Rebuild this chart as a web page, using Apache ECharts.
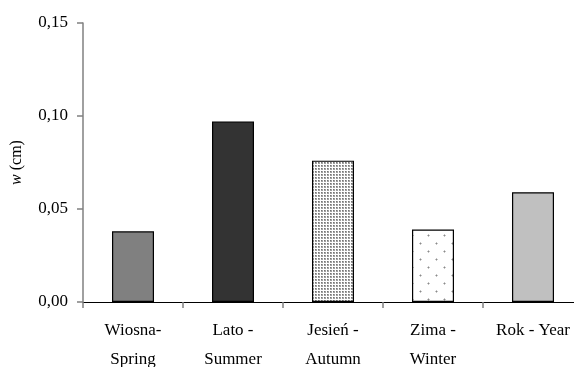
<!DOCTYPE html>
<html>
<head>
<meta charset="utf-8">
<style>
  html, body { margin: 0; padding: 0; background: #fff; }
  #chart { width: 574px; height: 367px; }
</style>
<script src="https://cdn.jsdelivr.net/npm/echarts@6/dist/echarts.min.js"></script>
</head>
<body>
<div id="chart"></div>
<script>
// Seasonal values of w (cm)
const categories = ['Wiosna-\nSpring', 'Lato -\nSummer', 'Jesień -\nAutumn', 'Zima -\nWinter', 'Rok - Year'];
const values = [0.038, 0.097, 0.076, 0.039, 0.059];
const yTicks = { min: 0, max: 0.15, interval: 0.05 };

// Tiled fill patterns for the hatched bars
function densePattern() {
  const c = document.createElement('canvas');
  c.width = 3; c.height = 3;
  const g = c.getContext('2d');
  g.fillStyle = '#ffffff'; g.fillRect(0, 0, 3, 3);
  g.fillStyle = '#a0a0a0'; g.fillRect(0, 0, 2, 2);
  g.fillStyle = '#747474'; g.fillRect(0, 0, 1, 1);
  return { image: c, repeat: 'repeat' };
}
function sparsePattern() {
  const c = document.createElement('canvas');
  c.width = 16; c.height = 16;
  const g = c.getContext('2d');
  g.fillStyle = '#ffffff'; g.fillRect(0, 0, 16, 16);
  g.fillStyle = '#8a8a8a';
  g.fillRect(4, 3, 1, 1); g.fillRect(12, 11, 1, 1);
  g.fillStyle = '#c4c4c4';
  g.fillRect(3, 3, 1, 1); g.fillRect(4, 2, 1, 1); g.fillRect(5, 3, 1, 1); g.fillRect(4, 4, 1, 1);
  g.fillRect(11, 11, 1, 1); g.fillRect(12, 10, 1, 1); g.fillRect(13, 11, 1, 1); g.fillRect(12, 12, 1, 1);
  return { image: c, repeat: 'repeat' };
}

const fills = ['#808080', '#333333', densePattern(), sparsePattern(), '#c0c0c0'];

const chart = echarts.init(document.getElementById('chart'), null, { renderer: 'canvas' });
const serif = '"Liberation Serif", "Times New Roman", serif';

chart.setOption({
  animation: false,
  backgroundColor: '#ffffff',
  grid: {
    left: 83, top: 23, width: 500, height: 279,
    containLabel: false, outerBoundsMode: 'none'
  },
  xAxis: {
    type: 'category',
    data: categories,
    axisLine: { lineStyle: { color: '#000000', width: 1 } },
    axisTick: { show: true, length: 6, lineStyle: { color: '#808080', width: 1.5 } },
    axisLabel: {
      color: '#000000', fontFamily: serif, fontSize: 17,
      margin: 14, lineHeight: 29, interval: 0
    }
  },
  yAxis: {
    type: 'value',
    min: yTicks.min, max: yTicks.max, interval: yTicks.interval,
    splitLine: { show: false },
    axisLine: { show: true, lineStyle: { color: '#808080', width: 1.5 } },
    axisTick: { show: true, length: 6, lineStyle: { color: '#808080', width: 1.5 } },
    axisLabel: {
      color: '#000000', fontFamily: serif, fontSize: 17, margin: 15,
      formatter: v => v.toFixed(2).replace('.', ',')
    },
    name: '{i|w} (cm)',
    nameLocation: 'middle',
    nameRotate: 90,
    nameGap: 58,
    nameTextStyle: {
      color: '#000000', fontFamily: serif, fontSize: 16,
      rich: { i: { fontStyle: 'italic', fontFamily: serif, fontSize: 16, color: '#000000' } }
    }
  },
  series: [{
    type: 'bar',
    barWidth: 42,
    data: values.map((v, i) => ({
      value: v,
      itemStyle: { color: fills[i], borderColor: '#000000', borderWidth: 1.2 }
    }))
  }]
});
</script>
</body>
</html>
